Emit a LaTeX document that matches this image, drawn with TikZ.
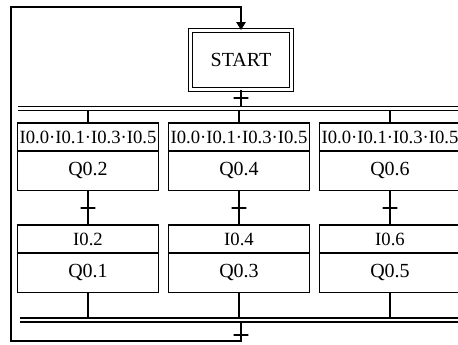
\documentclass[tikz,border=0pt]{standalone}
\usepackage{fontspec}
\setmainfont{Liberation Serif}
\usetikzlibrary{arrows.meta, positioning}

\begin{document}
\begin{tikzpicture}[
    x=0.75pt, y=-0.75pt,
    every node/.style={font=\fontsize{15}{18}\selectfont},
    startbox/.style={draw, double, double distance=1.8pt, line width=0.9pt, minimum width=76pt, minimum height=44pt, inner sep=2pt},
    cond/.style={draw, line width=0.9pt, outer sep=0pt, minimum width=105.75pt, minimum height=21pt, inner sep=1pt, font=\fontsize{14}{16}\selectfont},
    act/.style={draw, line width=0.9pt, outer sep=0pt, minimum width=105.75pt, minimum height=29.5pt, inner sep=1pt},
    link/.style={line width=1.1pt},
    bar/.style={double, double distance=2pt, line width=0.9pt},
    tick/.style={draw, line width=1.3pt, minimum width=11pt, minimum height=0pt, inner sep=0pt}
]
\useasboundingbox (0,0) rectangle (458,345);
\clip (0,0) rectangle (458,345);

\node[startbox] (start) at (241,60) {START};

% simultaneous branches
\node[cond] (c1) at (88,137) {I0.0·I0.1·I0.3·I0.5};
\node[cond] (c2) at (239,137) {I0.0·I0.1·I0.3·I0.5};
\node[cond] (c3) at (390,137) {I0.0·I0.1·I0.3·I0.5};
\node[act, below=0pt of c1] (a1) {Q0.2};
\node[act, below=0pt of c2] (a2) {Q0.4};
\node[act, below=0pt of c3] (a3) {Q0.6};

\node[cond] (c4) at (88,239) {I0.2};
\node[cond] (c5) at (239,239) {I0.4};
\node[cond] (c6) at (390,239) {I0.6};
\node[act, below=0pt of c4] (a4) {Q0.1};
\node[act, below=0pt of c5] (a5) {Q0.3};
\node[act, below=0pt of c6] (a6) {Q0.5};

\coordinate (topL) at (18,108.5);
\coordinate (topR) at (462,108.5);
\coordinate (botL) at (20,320);
\coordinate (botR) at (462,320);
\coordinate (loopSW) at (11,341);
\coordinate (loopNW) at (11,7);

\draw[link] (start.south) -- node[tick, pos=0.45] {} (start.south |- topL);
\foreach \n in {1,2,3}
  \draw[link] (c\n.north) -- (c\n.north |- topL);

\draw[link] (a1.south) -- node[tick] {} (c4.north);
\draw[link] (a2.south) -- node[tick] {} (c5.north);
\draw[link] (a3.south) -- node[tick] {} (c6.north);

\foreach \n in {4,5,6}
  \draw[link] (a\n.south) -- (a\n.south |- botL);

% loop back to START
\draw[link, -{Triangle[length=6pt, width=7pt]}] (start.south |- botL) -- node[tick, pos=0.7] {} (start.south |- loopSW)
  -- (loopSW) -- (loopNW) -- (start.north |- loopNW) -- (start.north);

\draw[bar] (topL) -- (topR);
\draw[bar] (botL) -- (botR);

\end{tikzpicture}
\end{document}
